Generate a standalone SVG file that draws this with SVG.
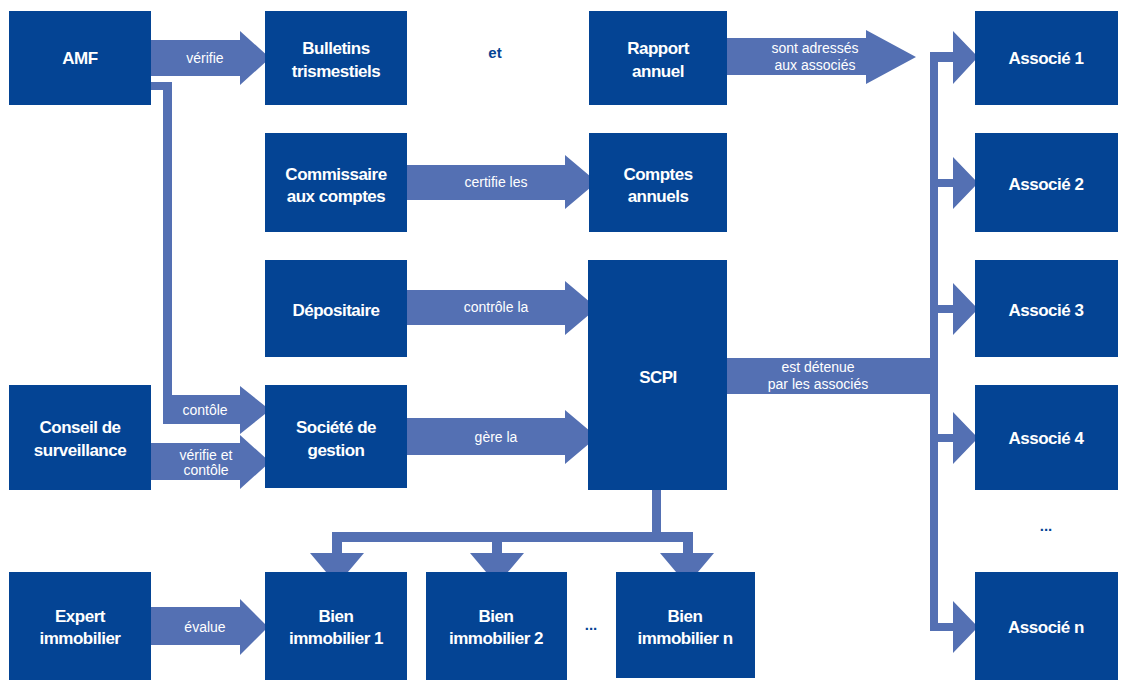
<svg xmlns="http://www.w3.org/2000/svg" width="1133" height="691" viewBox="0 0 1133 691">
<style>
.n{fill:#044494}
.a{fill:#5470b3}
.t{font-family:"Liberation Sans",Arial,sans-serif;font-weight:bold;font-size:17px;fill:#fff;text-anchor:middle;letter-spacing:-0.5px}
.l{font-family:"Liberation Sans",Arial,sans-serif;font-size:14px;fill:#fff;text-anchor:middle}
.d{font-family:"Liberation Sans",Arial,sans-serif;font-weight:bold;font-size:15px;fill:#044494;text-anchor:middle}
</style>
<rect width="1133" height="691" fill="#fff"/>
<g id="connectors">
<polygon class="a" points="151,40 240,40 240,31 270,58 240,85 240,76 151,76"/>
<polygon class="a" points="151,82 172,82 172,395 240,395 240,386 270,410 240,434 240,424 163,424 163,90 151,90"/>
<polygon class="a" points="151,443 240,443 240,435 270,462 240,489 240,480 151,480"/>
<polygon class="a" points="407,165 565,165 565,155 597,182 565,209 565,200 407,200"/>
<polygon class="a" points="407,290 565,290 565,281 597,308 565,335 565,325 407,325"/>
<polygon class="a" points="407,418 565,418 565,410 597,437 565,464 565,455 407,455"/>
<polygon class="a" points="727,38 866,38 866,30 916,57 866,84 866,75 727,75"/>
<polygon class="a" points="151,607 240,607 240,599 268,627 240,655 240,645 151,645"/>
<polygon class="a" points="727,358 930,358 930,52 953,52 953,31 978,57 953,84 953,62 938,62 938,394 727,394"/>
<polygon class="a" points="938,179 953,179 953,157 978,183 953,209 953,187 938,187"/>
<polygon class="a" points="938,305 953,305 953,283 978,309 953,335 953,313 938,313"/>
<polygon class="a" points="938,434 953,434 953,412 978,438 953,464 953,442 938,442"/>
<rect class="a" x="930" y="390" width="8" height="240"/>
<polygon class="a" points="930,623 953,623 953,601 978,627 953,653 953,631 930,631"/>
<rect class="a" x="652" y="488" width="9" height="46"/>
<rect class="a" x="332" y="532" width="361" height="10"/>
<polygon class="a" points="332,540 342,540 342,553 364,553 337,585 310,553 332,553"/>
<polygon class="a" points="492,540 502,540 502,553 524,553 497,585 470,553 492,553"/>
<polygon class="a" points="683,540 693,540 693,553 714,553 687,585 660,553 683,553"/>
<text class="l" x="205" y="63">vérifie</text>
<text class="l" x="205" y="415">contôle</text>
<text class="l" x="206" y="460">vérifie et</text>
<text class="l" x="206" y="475">contôle</text>
<text class="l" x="496" y="187">certifie les</text>
<text class="l" x="496" y="312">contrôle  la</text>
<text class="l" x="496" y="442">gère la</text>
<text class="l" x="815" y="53">sont adressés</text>
<text class="l" x="815" y="70">aux associés</text>
<text class="l" x="818" y="372">est détenue</text>
<text class="l" x="818" y="389">par les associés</text>
<text class="l" x="205" y="632">évalue</text>
</g>
<g id="amf"><rect class="n" x="9" y="11" width="142" height="94"/><text class="t" x="80" y="64">AMF</text></g>
<g id="bulletins"><rect class="n" x="265" y="11" width="142" height="94"/><text class="t" x="336" y="54">Bulletins</text><text class="t" x="336" y="77">trismestiels</text></g>
<g id="et"><text class="d" x="495" y="58">et</text></g>
<g id="rapport"><rect class="n" x="589" y="11" width="138" height="94"/><text class="t" x="658" y="54">Rapport</text><text class="t" x="658" y="77">annuel</text></g>
<g id="commissaire"><rect class="n" x="265" y="133" width="142" height="99"/><text class="t" x="336" y="180">Commissaire</text><text class="t" x="336" y="202">aux comptes</text></g>
<g id="comptes"><rect class="n" x="589" y="133" width="138" height="99"/><text class="t" x="658" y="180">Comptes</text><text class="t" x="658" y="202">annuels</text></g>
<g id="depositaire"><rect class="n" x="265" y="260" width="142" height="97"/><text class="t" x="336" y="316">Dépositaire</text></g>
<g id="scpi"><rect class="n" x="588" y="260" width="139" height="230"/><text class="t" x="658" y="383">SCPI</text></g>
<g id="conseil"><rect class="n" x="9" y="385" width="142" height="105"/><text class="t" x="80" y="433">Conseil de</text><text class="t" x="80" y="456">surveillance</text></g>
<g id="societe"><rect class="n" x="265" y="385" width="142" height="103"/><text class="t" x="336" y="433">Société de</text><text class="t" x="336" y="456">gestion</text></g>
<g id="expert"><rect class="n" x="9" y="572" width="142" height="108"/><text class="t" x="80" y="622">Expert</text><text class="t" x="80" y="644">immobilier</text></g>
<g id="bien1"><rect class="n" x="265" y="572" width="142" height="108"/><text class="t" x="336" y="622">Bien</text><text class="t" x="336" y="644">immobilier 1</text></g>
<g id="bien2"><rect class="n" x="426" y="572" width="141" height="108"/><text class="t" x="496" y="622">Bien</text><text class="t" x="496" y="644">immobilier 2</text></g>
<g id="dots1"><text class="d" x="591" y="630">...</text></g>
<g id="bienn"><rect class="n" x="616" y="572" width="139" height="106"/><text class="t" x="685" y="622">Bien</text><text class="t" x="685" y="644">immobilier n</text></g>
<g id="associe1"><rect class="n" x="975" y="11" width="143" height="94"/><text class="t" x="1046" y="64">Associé 1</text></g>
<g id="associe2"><rect class="n" x="975" y="133" width="143" height="99"/><text class="t" x="1046" y="190">Associé 2</text></g>
<g id="associe3"><rect class="n" x="975" y="260" width="143" height="97"/><text class="t" x="1046" y="316">Associé 3</text></g>
<g id="associe4"><rect class="n" x="975" y="385" width="143" height="105"/><text class="t" x="1046" y="444">Associé 4</text></g>
<g id="dots2"><text class="d" x="1046" y="531">...</text></g>
<g id="associen"><rect class="n" x="975" y="572" width="143" height="108"/><text class="t" x="1046" y="633">Associé n</text></g>
</svg>
